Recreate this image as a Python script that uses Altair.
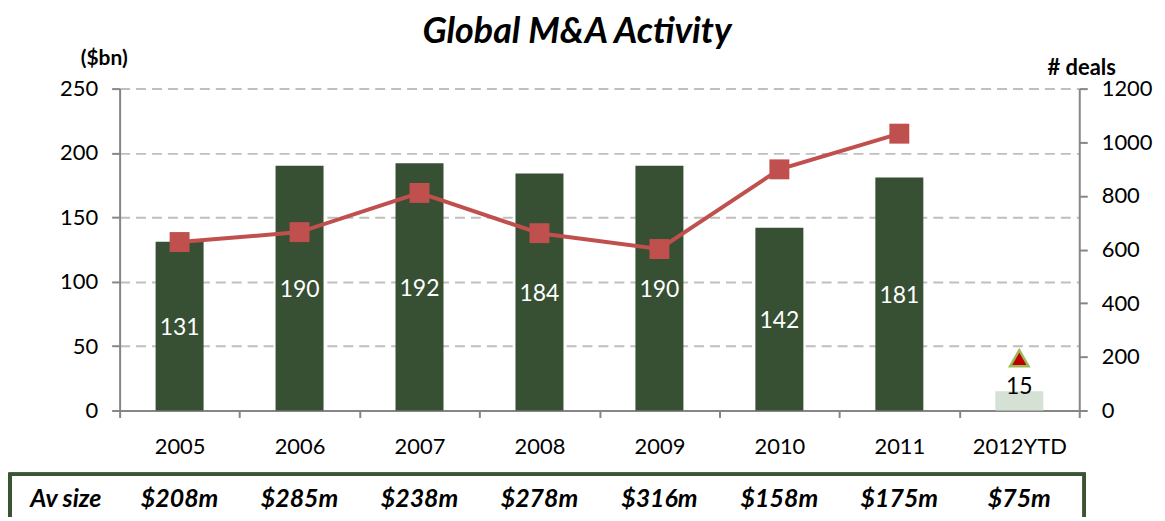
import altair as alt
import pandas as pd

categories = ["2005", "2006", "2007", "2008", "2009", "2010", "2011", "2012YTD"]
value_bn = [131, 190, 192, 184, 190, 142, 181, 15]
deal_years = ["2005", "2006", "2007", "2008", "2009", "2010", "2011"]
deals = [628, 665, 811, 661, 602, 899, 1032]
ytd_year = ["2012YTD"]
ytd_deals = [195]
av_size = ["$208m", "$285m", "$238m", "$278m", "$316m", "$158m", "$175m", "$75m"]
left_ticks = [0, 50, 100, 150, 200, 250]
right_ticks = [0, 200, 400, 600, 800, 1000, 1200]
title_text = ["Global M&A Activity"]

FONT = "Lato"
W, H = 963, 323
AXIS_GRAY = "#868686"

bars_df = pd.DataFrame({"cat": categories, "value": value_bn, "av": av_size})
bars_df["kind"] = ["full"] * 7 + ["ytd"]
deals_df = pd.DataFrame({"cat": deal_years, "deals": deals})
ytd_df = pd.DataFrame({"cat": ytd_year, "deals": ytd_deals})

xscale = alt.Scale(domain=categories, paddingInner=0, paddingOuter=0)
x_axis = alt.Axis(
    title=None, labelAngle=0, tickBand="extent", labelFont=FONT, labelFontSize=22,
    labelColor="#000000", labelPadding=19, tickSize=7, tickColor=AXIS_GRAY,
    domainColor=AXIS_GRAY, domainWidth=2, tickWidth=2, grid=False,
)
X = alt.X("cat:N", scale=xscale, sort=categories, axis=x_axis)

left_scale = alt.Scale(domain=[0, 250], nice=False, zero=True)
left_axis = alt.Axis(
    values=left_ticks, grid=True, gridDash=[10, 6], gridColor="#BFBFBF", gridWidth=2,
    title="($bn)", titleAngle=0, titleX=-16, titleY=-30, titleAlign="center",
    titleBaseline="middle", titleFont=FONT, titleFontSize=21, titleFontWeight="bold",
    titleColor="#000000", labelFont=FONT, labelFontSize=22, labelColor="#000000",
    labelPadding=14, tickSize=8, tickColor=AXIS_GRAY, tickWidth=2,
    domainColor=AXIS_GRAY, domainWidth=2,
)
YL = alt.Y("value:Q", scale=left_scale, axis=left_axis)

right_scale = alt.Scale(domain=[0, 1200], nice=False, zero=True)
right_axis = alt.Axis(
    orient="right", values=right_ticks, format="d", grid=False,
    title="# deals", titleAngle=0, titleX=2, titleY=-21, titleAlign="center",
    titleBaseline="middle", titleFont=FONT, titleFontSize=22, titleFontWeight="bold",
    titleColor="#000000", labelFont=FONT, labelFontSize=22, labelColor="#000000",
    labelPadding=14, tickSize=8, tickColor=AXIS_GRAY, tickWidth=2,
    domainColor=AXIS_GRAY, domainWidth=2,
)
YR = alt.Y("deals:Q", scale=right_scale, axis=right_axis)

base = alt.Chart(bars_df)

bars = base.mark_bar(width=alt.RelativeBandSize(0.4)).encode(
    x=X, y=YL,
    color=alt.Color("kind:N", scale=alt.Scale(domain=["full", "ytd"], range=["#374F32", "#D4E1D4"]), legend=None),
)

inner_labels = base.transform_filter(alt.datum.kind == "full").transform_calculate(
    mid="datum.value / 2"
).mark_text(font=FONT, fontSize=23, color="white", baseline="middle", dy=2).encode(
    x=X, y=alt.Y("mid:Q", scale=left_scale, axis=left_axis), text=alt.Text("value:Q")
)

ytd_label = base.transform_filter(alt.datum.kind == "ytd").mark_text(
    font=FONT, fontSize=23, color="black", baseline="middle", dy=-4
).encode(x=X, y=YL, text=alt.Text("value:Q"))

title_mark = alt.Chart(pd.DataFrame({"t": title_text})).mark_text(
    font=FONT, fontSize=36, fontStyle="italic", fontWeight="bold", color="black",
    baseline="middle", align="center"
).encode(x=alt.value(459), y=alt.value(-57), text="t:N")

box = alt.Chart(bars_df).mark_rect(fillOpacity=0, stroke="#3B5534", strokeWidth=3).encode(
    x=alt.value(-110), x2=alt.value(968), y=alt.value(H + 64), y2=alt.value(H + 140)
)

av_label = alt.Chart(pd.DataFrame({"t": ["Av size"]})).mark_text(
    font=FONT, fontSize=25, fontStyle="italic", fontWeight="bold", color="black", baseline="middle"
).encode(x=alt.value(-54), y=alt.value(H + 89), text="t:N")

av_row = base.mark_text(
    font=FONT, fontSize=25, fontStyle="italic", fontWeight="bold", color="black", baseline="middle"
).encode(x=X, y=alt.value(H + 89), text="av:N")

left = alt.layer(bars, inner_labels, ytd_label, title_mark, box, av_label, av_row)

line = alt.Chart(deals_df).mark_line(color="#C0504D", strokeWidth=4).encode(x=X, y=YR)
squares = alt.Chart(deals_df).mark_point(
    shape="square", filled=True, size=400, color="#C0504D", opacity=1
).encode(x=X, y=YR)
tri = alt.Chart(ytd_df).mark_point(
    shape="triangle-up", filled=True, size=340, fill="#C00000", stroke="#9BBB59",
    strokeWidth=2.5, opacity=1
).encode(x=X, y=YR)

right = alt.layer(line, squares, tri)

chart = alt.layer(left, right).resolve_scale(y="independent").properties(
    width=W, height=H,
    autosize=alt.AutoSizeParams(type="none"),
    padding={"left": 112, "top": 80, "right": 78, "bottom": 106},
).configure_view(stroke=None)

chart.save("out.html", embed_options={"renderer": "svg", "actions": False})
